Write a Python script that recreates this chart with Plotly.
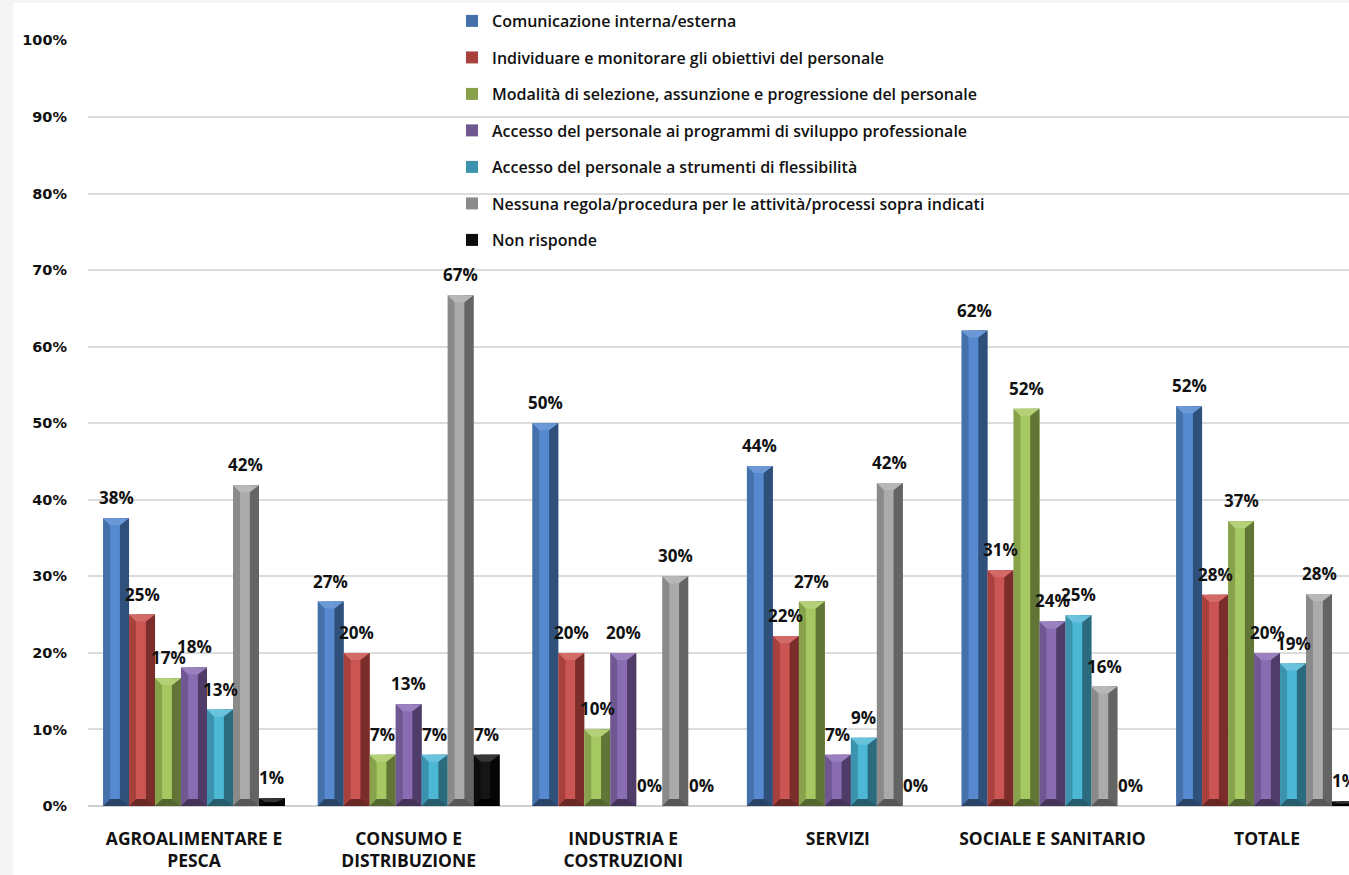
import plotly.graph_objects as go

# ---- data -------------------------------------------------------------
categories = [
    "AGROALIMENTARE E<br>PESCA",
    "CONSUMO E<br>DISTRIBUZIONE",
    "INDUSTRIA E<br>COSTRUZIONI",
    "SERVIZI",
    "SOCIALE E SANITARIO",
    "TOTALE",
]

series_names = [
    "Comunicazione interna/esterna",
    "Individuare e monitorare gli obiettivi del personale",
    "Modalità di selezione, assunzione e progressione del personale",
    "Accesso del personale ai programmi di sviluppo professionale",
    "Accesso del personale a strumenti di flessibilità",
    "Nessuna regola/procedura per le attività/processi sopra indicati",
    "Non risponde",
]

comunicazione = [0.376, 0.267, 0.500, 0.444, 0.621, 0.522]
individuare = [0.250, 0.200, 0.200, 0.222, 0.308, 0.276]
modalita = [0.167, 0.067, 0.100, 0.267, 0.519, 0.372]
sviluppo = [0.181, 0.133, 0.200, 0.067, 0.241, 0.200]
flessibilita = [0.126, 0.067, 0.000, 0.089, 0.249, 0.186]
nessuna = [0.419, 0.667, 0.300, 0.422, 0.156, 0.277]
non_risponde = [0.010, 0.067, 0.000, 0.000, 0.000, 0.006]

series_values = [comunicazione, individuare, modalita, sviluppo,
                 flessibilita, nessuna, non_risponde]

# bevel shades per series: side (left), face (centre), shadow (right), top, bottom
palette = [
    dict(left="#4571aa", face="#5689cf", right="#30507c", top="#6b98d6", bottom="#2a4468"),
    dict(left="#a8403d", face="#cb5552", right="#7b2d2b", top="#d46a67", bottom="#692725"),
    dict(left="#87a24a", face="#a6c862", right="#617536", top="#b5d178", bottom="#546530"),
    dict(left="#6f5791", face="#8a6cb3", right="#4f3c68", top="#9a80bf", bottom="#44345a"),
    dict(left="#3c93ad", face="#4db7d6", right="#2c6a7d", top="#6ac3dd", bottom="#265c6b"),
    dict(left="#8a8a8a", face="#ababab", right="#646464", top="#b8b8b8", bottom="#575757"),
    dict(left="#0d0d0d", face="#151515", right="#050505", top="#353535", bottom="#000000"),
]

# ---- geometry ---------------------------------------------------------
W, H = 1349, 875
M_L, M_R, M_T, M_B = 88, 0, 40, 69
PLOT_H = H - M_T - M_B
BAR_W = 0.1211                     # width of a single bar (category units)
N = len(series_names)
GROUP_W = N * BAR_W
BEVEL_PX = 7
FACE_L, FACE_R = 0.27, 0.65        # centre face bounds as fractions of bar width

x_idx = list(range(len(categories)))

fig = go.Figure()
shapes = []

for j, (name, vals, col) in enumerate(zip(series_names, series_values, palette)):
    off = -GROUP_W / 2 + j * BAR_W
    # main bar (left bevel colour)
    fig.add_trace(go.Bar(
        x=x_idx, y=vals, offset=off, width=BAR_W,
        marker=dict(color=col["left"], line=dict(width=0)),
        name=name, legendgroup=name, showlegend=True, hoverinfo="skip",
    ))
    # centre face
    fig.add_trace(go.Bar(
        x=x_idx, y=vals, offset=off + FACE_L * BAR_W, width=(FACE_R - FACE_L) * BAR_W,
        marker=dict(color=col["face"], line=dict(width=0)),
        legendgroup=name, showlegend=False, hoverinfo="skip",
    ))
    # right shadow side
    fig.add_trace(go.Bar(
        x=x_idx, y=vals, offset=off + FACE_R * BAR_W, width=(1 - FACE_R) * BAR_W,
        marker=dict(color=col["right"], line=dict(width=0)),
        legendgroup=name, showlegend=False, hoverinfo="skip",
    ))
    # top and bottom bevel facets, sized in pixels and anchored to the value
    for i, v in zip(x_idx, vals):
        if v <= 0:
            continue
        b = min(BEVEL_PX, v * PLOT_H / 2)
        x0 = i + off
        x1 = x0 + BAR_W
        fl = x0 + FACE_L * BAR_W
        fr = x0 + FACE_R * BAR_W
        shapes.append(dict(
            type="path", xref="x", yref="y", ysizemode="pixel", yanchor=v,
            path=f"M{x0},0 L{x1},0 L{fr},{-b} L{fl},{-b} Z",
            fillcolor=col["top"], line=dict(width=0), layer="above",
        ))
        shapes.append(dict(
            type="path", xref="x", yref="y", ysizemode="pixel", yanchor=0,
            path=f"M{x0},0 L{x1},0 L{fr},{b} L{fl},{b} Z",
            fillcolor=col["bottom"], line=dict(width=0), layer="above",
        ))

# value labels above each bar
annotations = []
for j, vals in enumerate(series_values):
    off = -GROUP_W / 2 + j * BAR_W
    for i, v in zip(x_idx, vals):
        annotations.append(dict(
            x=i + off + BAR_W / 2, y=v, xref="x", yref="y",
            text=f"{v:.0%}", showarrow=False, yanchor="bottom", yshift=7,
            font=dict(family="Open Sans", size=17, color="#111111", weight="bold"),
        ))

# light grey frame strips along the left and top edges of the page
shapes.append(dict(type="rect", xref="paper", yref="paper", layer="below",
                   x0=-M_L / (W - M_L - M_R), x1=-(M_L - 13) / (W - M_L - M_R),
                   y0=-M_B / PLOT_H, y1=(PLOT_H + M_T) / PLOT_H,
                   fillcolor="#f4f4f4", line=dict(width=0)))
shapes.append(dict(type="rect", xref="paper", yref="paper", layer="below",
                   x0=-M_L / (W - M_L - M_R), x1=1,
                   y0=(PLOT_H + M_T - 3) / PLOT_H, y1=(PLOT_H + M_T) / PLOT_H,
                   fillcolor="#f4f4f4", line=dict(width=0)))

fig.update_layout(
    width=W, height=H,
    margin=dict(l=M_L, r=M_R, t=M_T, b=M_B, pad=0),
    paper_bgcolor="white", plot_bgcolor="white",
    barmode="overlay",
    shapes=shapes,
    annotations=annotations,
    legend=dict(
        x=(452 - M_L) / (W - M_L - M_R), y=(PLOT_H + M_T - 4) / PLOT_H,
        xanchor="left", yanchor="top",
        bgcolor="rgba(0,0,0,0)", tracegroupgap=12.7,
        font=dict(family="Open Sans", size=16, color="#111111", weight=600),
    ),
    xaxis=dict(
        range=[-0.494, 5.382], tickmode="array", tickvals=x_idx, ticktext=categories,
        showgrid=False, zeroline=False, showline=False, ticks="",
        ticklabelstandoff=20,
        tickfont=dict(family="Open Sans", size=17.5, color="#111111", weight="bold"),
    ),
    yaxis=dict(
        range=[0, 1.0005], tickformat=".0%", dtick=0.1,
        showgrid=True, gridcolor="#dcdcdc", gridwidth=1.5,
        zeroline=True, zerolinecolor="#cfcfcf", zerolinewidth=1.5,
        showline=False, ticks="", ticklabelstandoff=20,
        tickfont=dict(family="DejaVu Sans", size=14.5, color="#111111", weight="bold"),
    ),
)

fig.write_html("out.html")
